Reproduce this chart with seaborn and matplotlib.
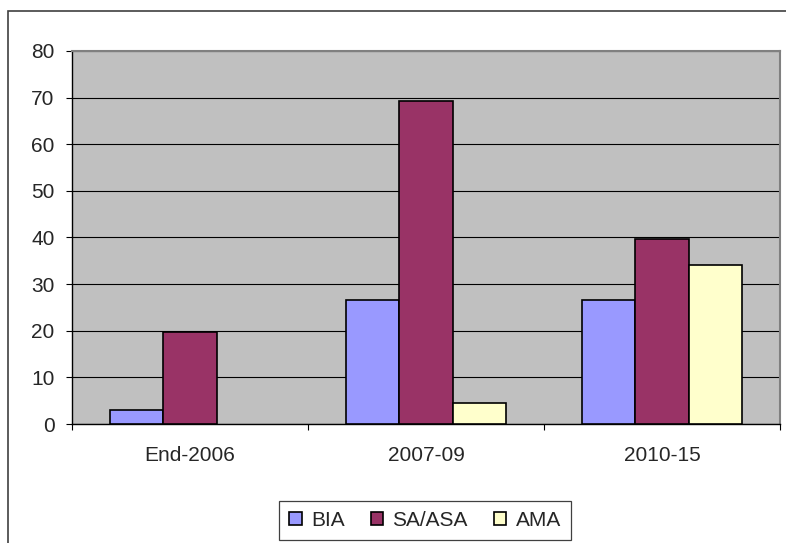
import matplotlib
matplotlib.use("Agg")
import matplotlib.pyplot as plt
from matplotlib.patches import Rectangle, Patch
from matplotlib.ticker import FixedLocator
import seaborn as sns
import pandas as pd

categories = ["End-2006", "2007-09", "2010-15"]
series = ["BIA", "SA/ASA", "AMA"]
bia = [3.0, 26.6, 26.6]
sa_asa = [19.8, 69.2, 39.6]
ama = [0.0, 4.4, 34.0]
colors = ["#9999FF", "#993366", "#FFFFCC"]
yticks = [0, 10, 20, 30, 40, 50, 60, 70, 80]

rows = []
for name, vals in zip(series, [bia, sa_asa, ama]):
    for c, v in zip(categories, vals):
        rows.append({"period": c, "series": name, "value": v})
df = pd.DataFrame(rows)

sns.set_style("white")
plt.rcParams["font.family"] = ["Liberation Sans", "DejaVu Sans"]

W, H = 786, 543
fig = plt.figure(figsize=(W / 100, H / 100), dpi=100)
fig.patch.set_facecolor("white")
ax = fig.add_axes([72 / W, 1 - 424 / H, (780 - 72) / W, (424 - 51) / H])
ax.set_facecolor("#C0C0C0")

sns.barplot(data=df, x="period", y="value", hue="series", order=categories,
            hue_order=series, palette=colors, width=0.674, saturation=1,
            edgecolor="black", linewidth=1.2, ax=ax, legend=False, zorder=3)
for p in ax.patches:
    if p.get_height() == 0:
        p.set_linewidth(0)

ax.set_ylim(0, 80)
ax.set_xlim(-0.5, 2.5)
ax.set_yticks(yticks)
ax.yaxis.grid(True, color="black", linewidth=0.8, zorder=1)
ax.set_axisbelow(True)
ax.set_xlabel("")
ax.set_ylabel("")

ax.tick_params(axis="y", which="major", direction="out", length=4.5, width=0.8,
               color="black", pad=8, labelsize=15, left=True)
ax.tick_params(axis="x", which="major", length=0, pad=16, labelsize=15)
ax.xaxis.set_minor_locator(FixedLocator([-0.5, 0.5, 1.5, 2.5]))
ax.tick_params(axis="x", which="minor", direction="out", length=4.5, width=0.8,
               color="black", bottom=True)

for s in ["left", "bottom"]:
    ax.spines[s].set_color("black")
    ax.spines[s].set_linewidth(1.0)
for s in ["top", "right"]:
    ax.spines[s].set_color("#808080")
    ax.spines[s].set_linewidth(1.5)
    ax.spines[s].set_visible(True)

# outer chart border
fig.patches.append(Rectangle((8 / W, -0.1), 1.2, 1.1 - 11 / H, transform=fig.transFigure,
                             fill=False, edgecolor="#404040", linewidth=1.2))

handles = [Patch(facecolor=c, edgecolor="black", linewidth=1.2) for c in colors]
leg = fig.legend(handles, series, loc="center", bbox_to_anchor=(425 / W, 1 - 520.5 / H),
                 ncol=3, frameon=True, fancybox=False, framealpha=1, fontsize=15,
                 handlelength=0.6, handleheight=0.6, handletextpad=0.45,
                 columnspacing=1.25, borderpad=0.5, edgecolor="#404040")
leg.get_frame().set_linewidth(0.9)

fig.savefig("out.png", dpi=100, facecolor="white")
